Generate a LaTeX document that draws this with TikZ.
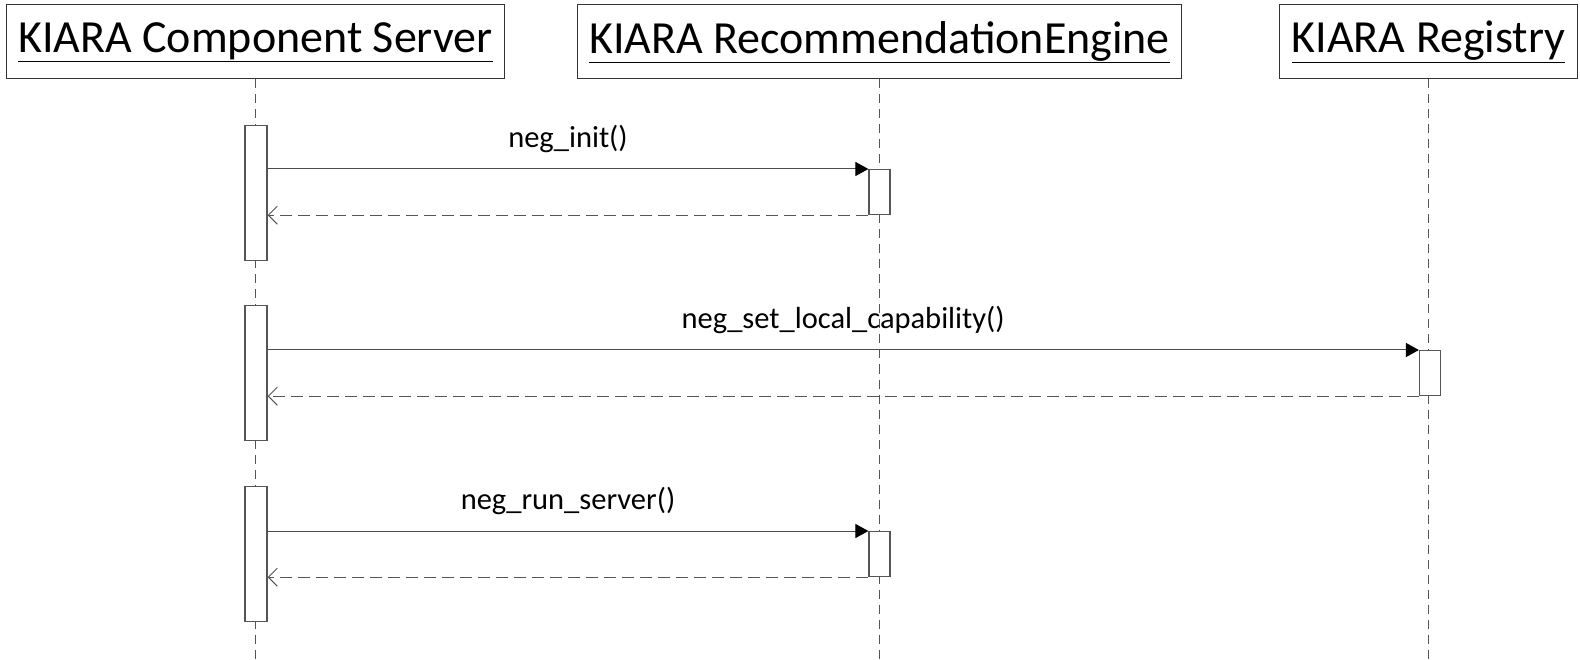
\documentclass[tikz,border=0pt]{standalone}
\usepackage{fontspec}
\setmainfont{Carlito}
\usetikzlibrary{arrows.meta}
\definecolor{linegray}{HTML}{555555}
\tikzset{
  actor/.style={draw=black!80, line width=1pt, inner xsep=12pt, minimum height=74pt,
    font=\fontsize{46}{55}\selectfont},
  lifeline/.style={draw=linegray, line width=1.4pt, dash pattern=on 9pt off 6pt},
  activation/.style={draw=linegray, fill=white, line width=1.2pt, inner sep=0pt,
    minimum width=22pt, minimum height=135pt, anchor=north},
  callbox/.style={activation, minimum width=21pt, minimum height=45pt},
  call/.style={draw=black!70, line width=1pt,
    -{Triangle[length=13pt,width=14pt,color=black]}},
  reply/.style={draw=linegray, line width=1.3pt, dash pattern=on 12pt off 6pt,
    -{Straight Barb[length=9pt,width=18pt,line width=1pt]}},
  msglabel/.style={font=\fontsize{30.5}{36}\selectfont, inner sep=0pt, above=16pt}
}
\begin{document}
\begin{tikzpicture}[x=1pt,y=-1pt]
\useasboundingbox (0,0) rectangle (1580,660);
\coordinate (bottom) at (0,660);

% participants
\node[actor] (server) at (255.5,42) {\raisebox{-2pt}{\underline{KIARA Component Server}}};
\node[actor] (engine) at (879.5,42) {\raisebox{-2pt}{\underline{KIARA RecommendationEngine}}};
\node[actor] (registry) at (1428.5,42) {\raisebox{-2pt}{\underline{KIARA Registry}}};

% lifelines
\foreach \n in {server,engine,registry}
  \draw[lifeline] (\n.south) -- (\n.south |- bottom);

% activations
\node[activation] (s1) at (256,125) {};
\node[activation] (s2) at (256,305) {};
\node[activation] (s3) at (256,486) {};
\node[callbox] (e1) at (879.5,169) {};
\node[callbox] (r2) at (1430,350) {};
\node[callbox] (e3) at (879.5,531) {};

% messages
\draw[call] (s1.east |- e1.north west) -- node[msglabel] {neg\_init()} (e1.north west);
\draw[reply] (e1.south west) -- (s1.east |- e1.south west);

\draw[call] (s2.east |- r2.north west) -- node[msglabel] {neg\_set\_local\_capability()} (r2.north west);
\draw[reply] (r2.south west) -- (s2.east |- r2.south west);

\draw[call] (s3.east |- e3.north west) -- node[msglabel] {neg\_run\_server()} (e3.north west);
\draw[reply] (e3.south west) -- (s3.east |- e3.south west);
\end{tikzpicture}
\end{document}
